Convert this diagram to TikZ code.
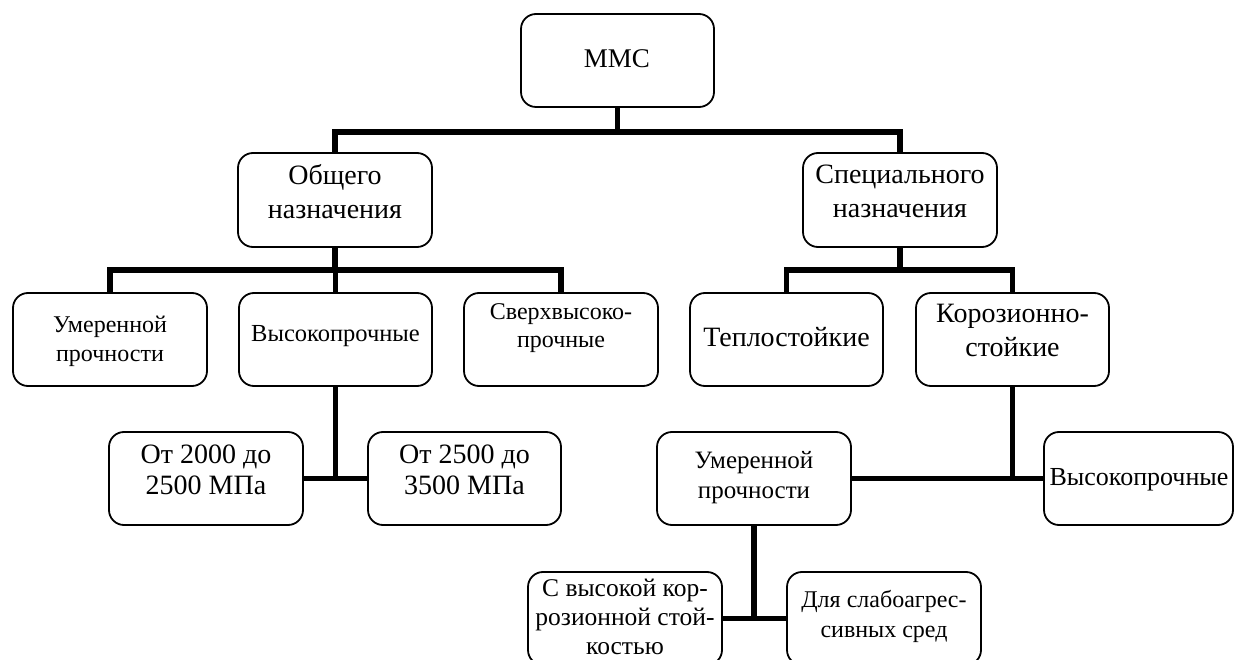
\documentclass[tikz,border=0pt]{standalone}
\usepackage{fontspec}
\setmainfont{Liberation Serif}
\newcommand{\mylines}[1]{\begin{tabular}[t]{@{}c@{}}#1\end{tabular}}
\newcommand{\fs}[2]{\fontsize{#1}{#2}\selectfont}
\tikzset{
  box/.style={draw, line width=1.8pt, rounded corners=15pt, fill=white, inner sep=0pt},
  conn/.style={line width=5.5pt},
  lbl/.style={anchor=base, inner sep=0pt}
}
\begin{document}
\begin{tikzpicture}[x=1pt,y=-1pt]
\useasboundingbox (0,0) rectangle (1235,660);
\clip (0,0) rectangle (1235,660);
\fill[white] (0,0) rectangle (1235,660);
% boxes
\newcommand{\mkbox}[5]{\node[box, minimum width=#4pt-#2pt, minimum height=#5pt-#3pt] (#1) at ({(#2+#4)/2},{(#3+#5)/2}) {};}
\mkbox{mmc}{521}{14}{714}{107}
\mkbox{gen}{238}{153}{432}{247}
\mkbox{spec}{803}{153}{997}{247}
\mkbox{l3a}{13}{293}{207}{386}
\mkbox{l3b}{239}{293}{432}{386}
\mkbox{l3c}{464}{293}{658}{386}
\mkbox{l3d}{690}{293}{883}{386}
\mkbox{l3e}{916}{293}{1109}{386}
\mkbox{l4a}{109}{432}{303}{525}
\mkbox{l4b}{368}{432}{561}{525}
\mkbox{l4c}{657}{432}{851}{525}
\mkbox{l4d}{1044}{432}{1233}{525}
\mkbox{l5a}{528}{572}{722}{665}
\mkbox{l5b}{787}{572}{981}{665}
% junctions
\coordinate (j1) at (mmc.south |- 0,132);
\coordinate (j2) at (gen.south |- 0,270);
\coordinate (j3) at (spec.south |- 0,270);
% connectors
\draw[conn] (mmc.south) -- (j1);
\draw[conn] (gen.north) |- (j1) -| (spec.north);
\draw[conn] (gen.south) -- (j2);
\draw[conn] (l3a.north) |- (j2) -| (l3c.north);
\draw[conn] (l3b.north) -- (l3b.north |- j2);
\draw[conn] (spec.south) -- (j3);
\draw[conn] (l3d.north) |- (j3) -| (l3e.north);
\draw[conn] (l3b.south) -- (l3b.south |- l4a.east);
\draw[conn] (l4a.east) -- (l4b.west);
\draw[conn] (l3e.south) -- (l3e.south |- l4c.east);
\draw[conn] (l4c.east) -- (l4d.west);
\draw[conn] (l4c.south) -- (l4c.south |- l5a.east);
\draw[conn] (l5a.east) -- (l5b.west);
% texts
\node[lbl] (tmmc) at (617,68) {\fs{27}{31}MMC};
\node[lbl] (tgen) at (335,185) {\fs{28}{34}\mylines{Общего\\назначения}};
\node[lbl] (tspec) at (900,184) {\fs{28}{34}\mylines{Специального\\назначения}};
\node[lbl] (tl3a) at (110,333) {\fs{24}{29}\mylines{Умеренной\\прочности}};
\node[lbl] (tl3b) at (335.5,342) {\fs{24.5}{29}Высокопрочные};
\node[lbl] (tl3c) at (561,320) {\fs{24}{28}\mylines{Сверхвысоко-\\прочные}};
\node[lbl] (tl3d) at (786.5,347) {\fs{28}{33}Теплостойкие};
\node[lbl] (tl3e) at (1012.5,323) {\fs{28}{34}\mylines{Корозионно-\\стойкие}};
\node[lbl] (tl4a) at (206,463) {\fs{28}{32}\mylines{От 2000 до\\2500 МПа}};
\node[lbl] (tl4b) at (464.5,463) {\fs{28}{32}\mylines{От 2500 до\\3500 МПа}};
\node[lbl] (tl4c) at (754,468) {\fs{25}{30}\mylines{Умеренной\\прочности}};
\node[lbl] (tl4d) at (1139,485) {\fs{26}{30}Высокопрочные};
\node[lbl] (tl5a) at (625,596) {\fs{25.5}{29}\mylines{С высокой кор-\\розионной стой-\\костью}};
\node[lbl] (tl5b) at (884,607) {\fs{24}{30}\mylines{Для слабоагрес-\\сивных сред}};
\end{tikzpicture}
\end{document}
